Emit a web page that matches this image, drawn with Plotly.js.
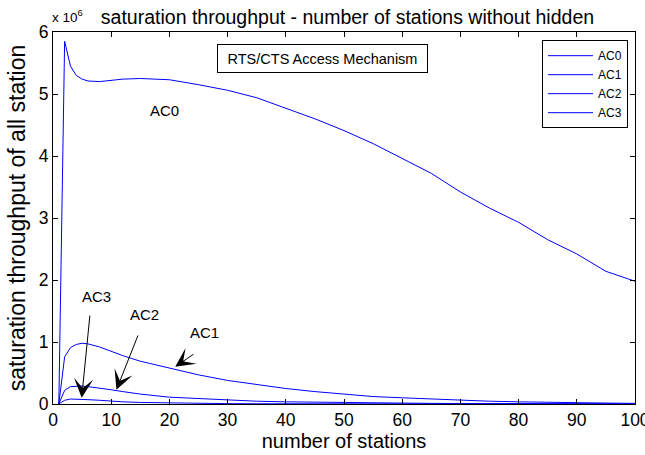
<!DOCTYPE html>
<html>
<head>
<meta charset="utf-8">
<script src="https://cdn.plot.ly/plotly-3.0.1.min.js"></script>
<style>html,body{margin:0;padding:0;background:#fff;}#chart{width:645px;height:455px;}</style>
</head>
<body>
<div id="chart"></div>
<script>
const stations = [1,2,3,4,5,6,8,10,12,15,20,25,30,35,40,45,50,55,60,65,70,75,80,85,90,95,100];
// saturation throughput, in units of 10^6
const ac0 = [0,5.85,5.45,5.30,5.24,5.21,5.20,5.22,5.24,5.25,5.23,5.15,5.06,4.94,4.77,4.60,4.41,4.20,3.96,3.72,3.42,3.16,2.93,2.65,2.42,2.14,1.98];
const ac1 = [0,0.76,0.91,0.96,0.98,0.97,0.92,0.85,0.78,0.69,0.58,0.47,0.38,0.31,0.25,0.20,0.16,0.12,0.10,0.08,0.06,0.045,0.035,0.025,0.02,0.015,0.01];
const ac2 = [0,0.22,0.28,0.29,0.29,0.28,0.26,0.23,0.20,0.16,0.11,0.09,0.06,0.045,0.035,0.028,0.02,0.016,0.012,0.01,0.008,0.006,0.005,0.004,0.003,0.0025,0.002];
const ac3 = [0,0.06,0.08,0.08,0.075,0.07,0.06,0.045,0.035,0.025,0.015,0.01,0.006,0.004,0.003,0.0025,0.002,0.0015,0.001,0.001,0.0008,0.0007,0.0006,0.0005,0.0004,0.0003,0.0003];
const seriesNames = ['AC0','AC1','AC2','AC3'];
const xTicks = [0,10,20,30,40,50,60,70,80,90,100];
const yTicks = [0,1,2,3,4,5,6];

const FONT = 'Liberation Sans, Arial, Helvetica, sans-serif';
const series = [ac0, ac1, ac2, ac3];
const traces = series.map((ys, i) => ({
  x: stations, y: ys, type: 'scatter', mode: 'lines', name: seriesNames[i],
  line: {color: 'rgb(0,0,255)', width: 1}
}));

function arrow(hx, hy, tx, ty) {
  return {x: hx, y: hy, ax: tx, ay: ty, xref: 'x', yref: 'y', axref: 'x', ayref: 'y',
    text: '', showarrow: true, arrowhead: 3, arrowsize: 3.2, arrowwidth: 1, arrowcolor: '#000'};
}
function label(txt, x, y) {
  return {x: x, y: y, xref: 'x', yref: 'y', text: txt, showarrow: false,
    font: {family: FONT, size: 15, color: '#000'}, xanchor: 'center', yanchor: 'middle'};
}

const layout = {
  width: 645, height: 455,
  margin: {l: 53, r: 10, t: 32, b: 51, pad: 0},
  paper_bgcolor: '#fff', plot_bgcolor: '#fff',
  showlegend: true,
  title: {text: 'saturation throughput - number of stations without hidden',
    font: {family: FONT, size: 19.5, color: '#000'},
    x: 0.506, xref: 'paper', xanchor: 'center', y: 0.962, yref: 'container', yanchor: 'middle'},
  xaxis: {
    range: [0, 100], tickvals: xTicks, ticktext: xTicks.map(String),
    ticks: 'inside', ticklen: 5, tickcolor: '#000', tickwidth: 1,
    showline: true, linecolor: '#000', linewidth: 1, mirror: 'ticks',
    showgrid: false, zeroline: false, ticklabeloverflow: 'allow',
    tickfont: {family: FONT, size: 17.5, color: '#000'},
    title: {text: 'number of stations', font: {family: FONT, size: 20, color: '#000'}, standoff: 4}
  },
  yaxis: {
    range: [0, 6], tickvals: yTicks, ticktext: yTicks.map(String),
    ticks: 'inside', ticklen: 5, tickcolor: '#000', tickwidth: 1,
    showline: true, linecolor: '#000', linewidth: 1, mirror: 'ticks',
    showgrid: false, zeroline: false, ticklabeloverflow: 'allow',
    tickfont: {family: FONT, size: 17.5, color: '#000'},
    title: {text: 'saturation throughput of all station', font: {family: FONT, size: 23, color: '#000'}, standoff: 6}
  },
  legend: {
    x: 0.988, xanchor: 'right', y: 0.978, yanchor: 'top',
    bgcolor: '#fff', bordercolor: '#000', borderwidth: 1,
    font: {family: FONT, size: 12, color: '#000'}, tracegroupgap: 0, itemwidth: 45
  },
  annotations: [
    {xref: 'paper', yref: 'paper', x: -0.006, y: 1.043, xanchor: 'left', yanchor: 'middle',
      text: 'x 10<sup>6</sup>', showarrow: false, font: {family: FONT, size: 13.5, color: '#000'}},
    {xref: 'paper', yref: 'paper', x: 0.463, y: 0.929, xanchor: 'center', yanchor: 'middle',
      text: 'RTS/CTS Access Mechanism', showarrow: false, width: 209, height: 27, borderpad: 0,
      bordercolor: '#000', borderwidth: 1, bgcolor: '#fff',
      font: {family: FONT, size: 14.5, color: '#000'}},
    label('AC0', 19.1, 4.74),
    label('AC3', 7.5, 1.74),
    label('AC2', 15.8, 1.45),
    label('AC1', 26.1, 1.15),
    arrow(4.93, 0.10, 6.36, 1.45),
    arrow(10.9, 0.23, 14.7, 1.13),
    arrow(21.0, 0.60, 24.4, 0.82)
  ]
};

Plotly.newPlot('chart', traces, layout, {displayModeBar: false, staticPlot: true});
</script>
</body>
</html>
